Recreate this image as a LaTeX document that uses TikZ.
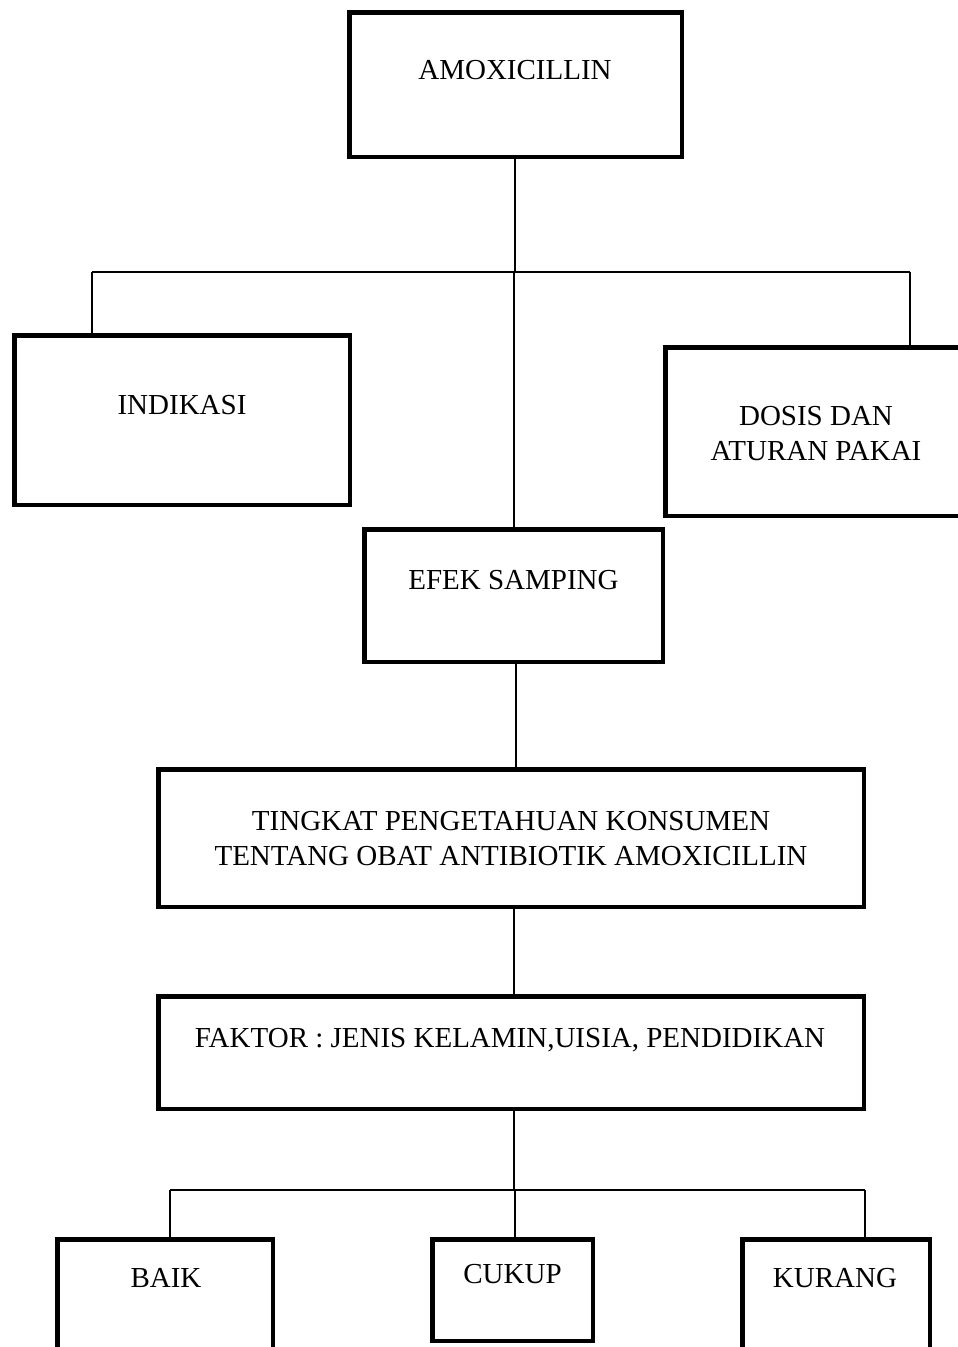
\documentclass[tikz,border=0pt]{standalone}
\usepackage{fontspec}
\setmainfont{Liberation Serif}
\begin{document}
\begin{tikzpicture}[x=1pt,y=-1pt,
  boxnode/.style={draw=black, line width=4.5pt, inner sep=0pt, rectangle},
  txt/.style={inner sep=0pt, font=\fontsize{29}{35}\selectfont, align=center},
  conn/.style={draw=black, line width=1.6pt}]
\clip (0,0) rectangle (958,1347);
\fill[white] (0,0) rectangle (958,1347);
% boxes (size = outer size minus line width)
\node[boxnode, minimum width=332.5pt, minimum height=144.5pt] (amox) at (515.5,84.5) {};
\node[boxnode, minimum width=335.5pt, minimum height=169.5pt] (indi) at (182,420) {};
\node[boxnode, minimum width=302.5pt, minimum height=168.5pt] (dosis) at (816.5,431.5) {};
\node[boxnode, minimum width=298.5pt, minimum height=132.5pt] (efek) at (513.5,595.5) {};
\node[boxnode, minimum width=705.5pt, minimum height=137.5pt] (tingkat) at (511,838) {};
\node[boxnode, minimum width=705.5pt, minimum height=112.5pt] (faktor) at (511,1052.5) {};
\node[boxnode, minimum width=215.5pt, minimum height=121.5pt] (baik) at (165,1300) {};
\node[boxnode, minimum width=160.5pt, minimum height=101.5pt] (cukup) at (512.5,1290) {};
\node[boxnode, minimum width=187.5pt, minimum height=118.5pt] (kurang) at (836,1298.5) {};
% texts
\node[txt, anchor=base] (tamox) at (515,79) {AMOXICILLIN};
\node[txt, anchor=base] (tindi) at (182,414) {INDIKASI};
\node[txt, anchor=center] (tdosis) at (816,434) {DOSIS DAN\\ATURAN PAKAI};
\node[txt, anchor=base] (tefek) at (513.5,589) {EFEK SAMPING};
\node[txt, anchor=center] (ttingkat) at (511,839) {TINGKAT PENGETAHUAN KONSUMEN\\TENTANG OBAT ANTIBIOTIK AMOXICILLIN};
\node[txt, anchor=base] (tfaktor) at (510,1047) {FAKTOR : JENIS KELAMIN,UISIA, PENDIDIKAN};
\node[txt, anchor=base] (tbaik) at (166,1287) {BAIK};
\node[txt, anchor=base] (tcukup) at (512.5,1283) {CUKUP};
\node[txt, anchor=base] (tkurang) at (835,1287) {KURANG};
% reference coordinates for connectors
\coordinate (busL) at (92,272);
\coordinate (busR) at (910,272);
\coordinate (midA) at (515,272);
\coordinate (midB) at (514,0);
\coordinate (midC) at (516,0);
\coordinate (bus2L) at (170,1190);
\coordinate (bus2R) at (865,1190);
\coordinate (bus2M) at (515,1190);
% upper connectors
\draw[conn] (midA |- amox.south) -- (midA);
\draw[conn] (busL) -- (busR);
\draw[conn] (busL) -- (busL |- indi.north);
\draw[conn] (busR) -- (busR |- dosis.north);
\draw[conn] (midB |- busL) -- (midB |- efek.north);
% middle connectors
\draw[conn] (midC |- efek.south) -- (midC |- tingkat.north);
\draw[conn] (midB |- tingkat.south) -- (midB |- faktor.north);
\draw[conn] (midB |- faktor.south) -- (midB |- bus2L);
% lower connectors
\draw[conn] (bus2L) -- (bus2R);
\draw[conn] (bus2L) -- (bus2L |- baik.north);
\draw[conn] (bus2M) -- (bus2M |- cukup.north);
\draw[conn] (bus2R) -- (bus2R |- kurang.north);
\end{tikzpicture}
\end{document}
